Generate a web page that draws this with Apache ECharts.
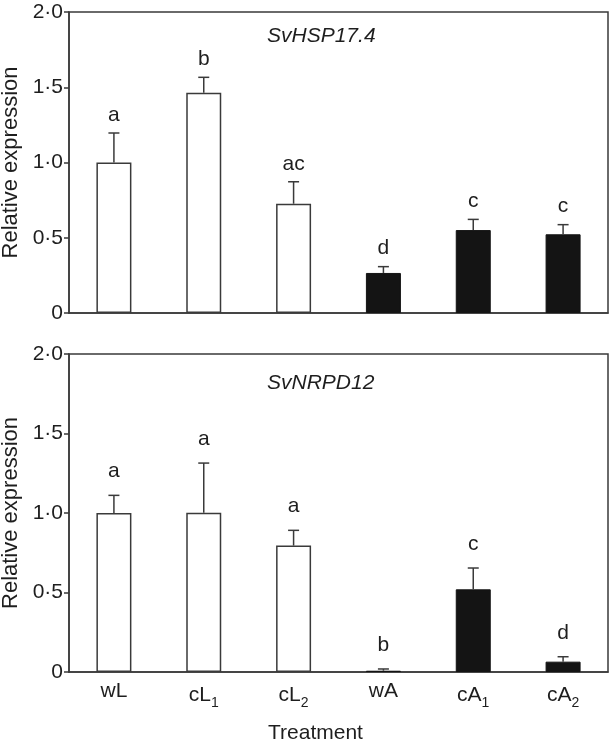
<!DOCTYPE html>
<html>
<head>
<meta charset="utf-8">
<script src="https://cdn.jsdelivr.net/npm/echarts@6/dist/echarts.min.js"></script>
<style>html,body{margin:0;padding:0;background:#fff}#c{width:609px;height:747px}</style>
</head>
<body>
<div id="c"></div>
<script>
// ---- data ----
const categories = ['wL', 'cL1', 'cL2', 'wA', 'cA1', 'cA2'];
const hspMean = [1.0, 1.464, 0.726, 0.266, 0.551, 0.523];
const hspErr = [0.196, 0.102, 0.146, 0.042, 0.071, 0.064];
const hspLetters = ['a', 'b', 'ac', 'd', 'c', 'c'];
const nrpdMean = [1.0, 1.002, 0.795, 0.008, 0.52, 0.065];
const nrpdErr = [0.111, 0.312, 0.096, 0.011, 0.134, 0.031];
const nrpdLetters = ['a', 'a', 'a', 'b', 'c', 'd'];
const lightTreatments = ['wL', 'cL1', 'cL2'];
const yTickValues = [0, 0.5, 1.0, 1.5, 2.0];
const geneNames = ['SvHSP17.4', 'SvNRPD12'];

// ---- style ----
const FONT = '"Liberation Sans", Arial, Helvetica, sans-serif';
const AX = '#3a3a3a';
const TXT = '#1e1e1e';

function yLabel(v) {
  if (!yTickValues.some(t => Math.abs(t - v) < 1e-9)) return '';
  return v === 0 ? '0' : v.toFixed(1).replace('.', '\u00b7');
}
function xLabel(v) {
  const m = v.match(/^(\D+)(\d)$/);
  return m ? '{b|' + m[1] + '}{s|' + m[2] + '}' : '{b|' + v + '}';
}

const grids = [
  { left: 69, right: 1, top: 12, height: 301 },
  { left: 69, right: 1, top: 354, height: 318 }
];
const labelOffsets = [18, 24];

const option = {
  animation: false,
  backgroundColor: '#fff',
  grid: grids.map(g => Object.assign({ show: true, borderColor: AX, borderWidth: 1.5, backgroundColor: 'transparent', containLabel: false, outerBoundsMode: 'none' }, g)),
  title: geneNames.map((n, i) => ({
    text: n, left: 262, top: i === 0 ? 21 : 368,
    textStyle: { fontFamily: FONT, fontStyle: 'italic', fontWeight: 'normal', fontSize: 21, color: TXT }
  })),
  graphic: [{
    type: 'text', left: 268, top: 723,
    style: { text: 'Treatment', fontFamily: FONT, fontSize: 21, fill: TXT }
  }],
  xAxis: [0, 1].map(i => ({
    type: 'category', gridIndex: i, data: categories,
    axisLine: { lineStyle: { color: AX, width: 1.5 } },
    axisTick: { show: false },
    axisLabel: {
      show: i === 1, margin: 9, formatter: xLabel,
      rich: {
        b: { fontFamily: FONT, fontSize: 21, color: TXT },
        s: { fontFamily: FONT, fontSize: 14, color: TXT, padding: [15, 0, 0, 0] }
      }
    }
  })),
  yAxis: [0, 1].map(i => ({
    type: 'value', gridIndex: i, min: 0, max: 2, interval: 0.5,
    name: 'Relative expression', nameLocation: 'middle', nameGap: 44,
    nameTextStyle: { fontFamily: FONT, fontSize: 22, color: TXT },
    axisLine: { show: true, lineStyle: { color: AX, width: 1.5 } },
    axisTick: { show: true, length: 5, lineStyle: { color: AX, width: 1.5 } },
    splitLine: { show: false },
    axisLabel: { margin: 6, formatter: yLabel, fontFamily: FONT, fontSize: 21, color: TXT }
  })),
  series: []
};

[[hspMean, hspErr, hspLetters], [nrpdMean, nrpdErr, nrpdLetters]].forEach(([mean, err, letters], gi) => {
  option.series.push({
    type: 'bar', xAxisIndex: gi, yAxisIndex: gi, barWidth: 35, z: 2,
    data: mean.map((v, k) => ({
      value: v,
      itemStyle: lightTreatments.includes(categories[k])
        ? { color: '#fff', borderColor: AX, borderWidth: 1.5 }
        : { color: '#141414', borderColor: '#141414', borderWidth: 1 }
    }))
  });
  option.series.push({
    type: 'custom', xAxisIndex: gi, yAxisIndex: gi, z: 3,
    data: mean.map((v, k) => [k, v, err[k], letters[k]]),
    renderItem: (params, api) => {
      const k = api.value(0);
      const base = api.coord([k, api.value(1)]);
      const top = api.coord([k, api.value(1) + api.value(2)]);
      const half = 5.5;
      const lineStyle = { stroke: AX, lineWidth: 1.5 };
      return {
        type: 'group',
        children: [
          { type: 'line', shape: { x1: base[0], y1: base[1], x2: top[0], y2: top[1] }, style: lineStyle },
          { type: 'line', shape: { x1: top[0] - half, y1: top[1], x2: top[0] + half, y2: top[1] }, style: lineStyle },
          { type: 'text', style: { text: letters[k], x: top[0], y: top[1] - labelOffsets[gi], align: 'center', verticalAlign: 'middle', fontFamily: FONT, fontSize: 21, fill: TXT } }
        ]
      };
    }
  });
});

const chart = echarts.init(document.getElementById('c'), null, { renderer: 'canvas' });
chart.setOption(option);
</script>
</body>
</html>
